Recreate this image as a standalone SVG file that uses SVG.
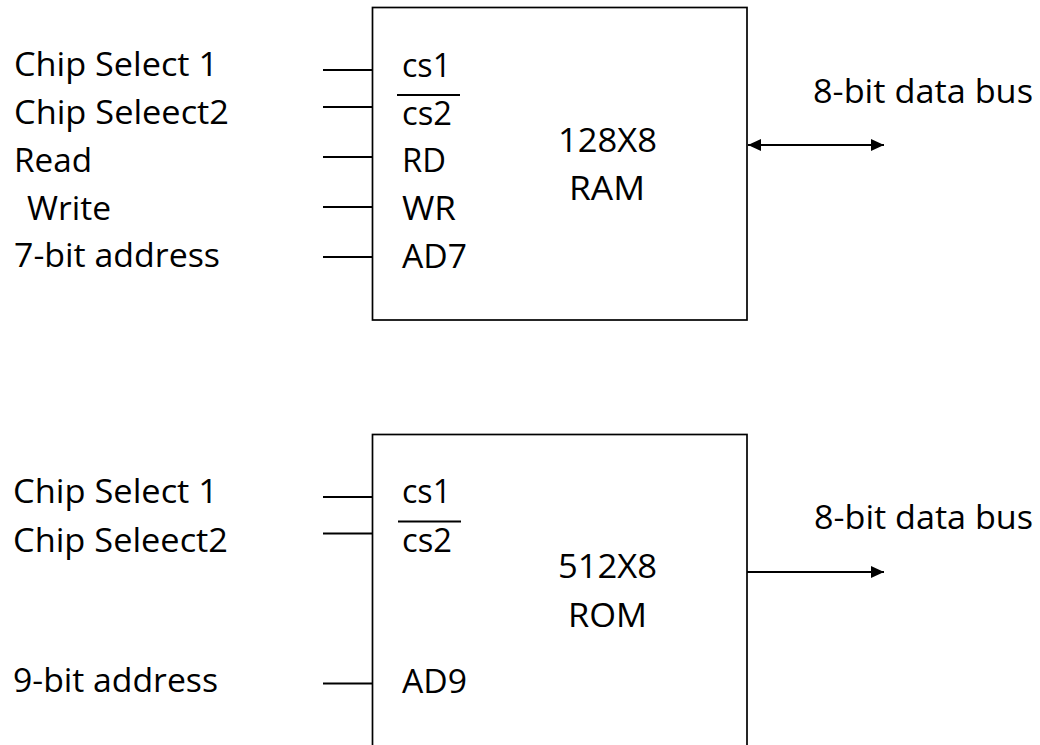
<svg xmlns="http://www.w3.org/2000/svg" width="1040" height="745" viewBox="0 0 1040 745">
  <style>
    text { font-family: "Open Sans", "Liberation Sans", Arial, sans-serif; font-size: 32.5px; fill: #000; }
    .box { fill: #fff; stroke: #000; stroke-width: 1.7; }
    .wire { stroke: #000; stroke-width: 1.8; fill: none; }
    .bar { stroke: #000; stroke-width: 1.8; }
  </style>
  <defs>
    <marker id="head" viewBox="0 0 13 12" refX="13" refY="6" markerWidth="13" markerHeight="12" markerUnits="userSpaceOnUse" orient="auto-start-reverse">
      <path d="M0,0 L13,6 L0,12 Z" fill="#000"/>
    </marker>
  </defs>

  <rect width="1040" height="745" fill="#fff"/>

  <!-- signal names on the left -->
  <g id="ram-labels">
    <text x="14" y="76" textLength="204" lengthAdjust="spacingAndGlyphs">Chip Select 1</text>
    <text x="14" y="124" textLength="215" lengthAdjust="spacingAndGlyphs">Chip Seleect2</text>
    <text x="14" y="172" textLength="78" lengthAdjust="spacingAndGlyphs">Read</text>
    <text x="27" y="220" textLength="84" lengthAdjust="spacingAndGlyphs">Write</text>
    <text x="14" y="267" textLength="206" lengthAdjust="spacingAndGlyphs">7-bit address</text>
  </g>
  <g id="rom-labels">
    <text x="13" y="503" textLength="205" lengthAdjust="spacingAndGlyphs">Chip Select 1</text>
    <text x="13" y="552" textLength="215" lengthAdjust="spacingAndGlyphs">Chip Seleect2</text>
    <text x="13" y="692" textLength="205" lengthAdjust="spacingAndGlyphs">9-bit address</text>
  </g>

  <!-- 128x8 RAM chip -->
  <g id="ram">
    <rect class="box" x="372.5" y="7.5" width="374.5" height="312.5"/>
    <text x="402" y="77" textLength="49" lengthAdjust="spacingAndGlyphs">cs1</text>
    <line class="bar" x1="397" y1="95" x2="460" y2="95"/>
    <text x="402" y="125" textLength="50" lengthAdjust="spacingAndGlyphs">cs2</text>
    <text x="402" y="172" textLength="44" lengthAdjust="spacingAndGlyphs">RD</text>
    <text x="402" y="220" textLength="54" lengthAdjust="spacingAndGlyphs">WR</text>
    <text x="402" y="268" textLength="65" lengthAdjust="spacingAndGlyphs">AD7</text>
    <text x="558" y="152" textLength="99" lengthAdjust="spacingAndGlyphs">128X8</text>
    <text x="569" y="200" textLength="76" lengthAdjust="spacingAndGlyphs">RAM</text>
    <text x="813" y="103" textLength="220" lengthAdjust="spacingAndGlyphs">8-bit data bus</text>
  </g>

  <!-- 512x8 ROM chip (runs past the lower edge) -->
  <g id="rom">
    <rect class="box" x="372.5" y="434.5" width="374.5" height="330"/>
    <text x="402" y="503" textLength="49" lengthAdjust="spacingAndGlyphs">cs1</text>
    <line class="bar" x1="398" y1="521.5" x2="461" y2="521.5"/>
    <text x="402" y="552" textLength="50" lengthAdjust="spacingAndGlyphs">cs2</text>
    <text x="402" y="693" textLength="65" lengthAdjust="spacingAndGlyphs">AD9</text>
    <text x="558" y="578" textLength="99" lengthAdjust="spacingAndGlyphs">512X8</text>
    <text x="568" y="627" textLength="79" lengthAdjust="spacingAndGlyphs">ROM</text>
    <text x="814" y="529" textLength="219" lengthAdjust="spacingAndGlyphs">8-bit data bus</text>
  </g>

  <!-- pin wires and data bus arrows -->
  <g id="connectors">
    <line class="wire" x1="323" y1="70" x2="372.5" y2="70"/>
    <line class="wire" x1="323" y1="107" x2="372.5" y2="107"/>
    <line class="wire" x1="323" y1="157" x2="372.5" y2="157"/>
    <line class="wire" x1="323" y1="207" x2="372.5" y2="207"/>
    <line class="wire" x1="323" y1="257" x2="372.5" y2="257"/>

    <line class="wire" x1="323" y1="497" x2="372.5" y2="497"/>
    <line class="wire" x1="323" y1="533.5" x2="372.5" y2="533.5"/>
    <line class="wire" x1="323" y1="683.5" x2="372.5" y2="683.5"/>

    <line class="wire" x1="748" y1="145" x2="884" y2="145" marker-start="url(#head)" marker-end="url(#head)"/>
    <line class="wire" x1="747" y1="572" x2="884" y2="572" marker-end="url(#head)"/>
  </g>
</svg>
